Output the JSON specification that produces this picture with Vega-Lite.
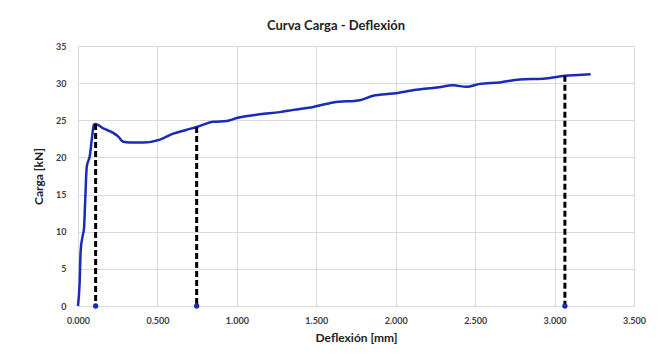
{
  "$schema": "https://vega.github.io/schema/vega-lite/v6.json",
  "width": 556,
  "height": 260,
  "autosize": {"type": "none"},
  "padding": {"left": 78, "top": 46, "right": 27, "bottom": 47},
  "background": "white",
  "title": {
    "text": "Curva Carga - Deflexión",
    "font": "Lato",
    "fontSize": 13,
    "fontWeight": "bold",
    "color": "#222222",
    "anchor": "middle",
    "dx": -20,
    "offset": 9
  },
  "config": {
    "view": {"stroke": null},
    "axis": {
      "labelFont": "Lato",
      "labelFontWeight": "bold",
      "labelFontSize": 9,
      "labelColor": "#404040",
      "labelFlush": false,
      "titleFont": "Lato",
      "titleFontWeight": "bold",
      "titleFontSize": 12,
      "titleColor": "#222222",
      "gridColor": "#d9d9d9",
      "gridWidth": 1,
      "domain": false,
      "ticks": false
    }
  },
  "datasets": {
    "curve": [
      {"x": 0.0, "y": 0.0},
      {"x": 0.01, "y": 3.0},
      {"x": 0.017, "y": 7.5},
      {"x": 0.03, "y": 9.5},
      {"x": 0.038, "y": 10.5},
      {"x": 0.045, "y": 14.0},
      {"x": 0.055, "y": 18.7},
      {"x": 0.075, "y": 20.3},
      {"x": 0.09, "y": 23.0},
      {"x": 0.1, "y": 24.4},
      {"x": 0.11, "y": 24.5},
      {"x": 0.16, "y": 23.9},
      {"x": 0.222, "y": 23.3},
      {"x": 0.254, "y": 22.8},
      {"x": 0.285, "y": 22.1},
      {"x": 0.327, "y": 22.0},
      {"x": 0.411, "y": 22.0},
      {"x": 0.516, "y": 22.4},
      {"x": 0.6, "y": 23.2},
      {"x": 0.68, "y": 23.7},
      {"x": 0.747, "y": 24.1},
      {"x": 0.852, "y": 24.8},
      {"x": 0.936, "y": 24.9},
      {"x": 0.999, "y": 25.3},
      {"x": 1.145, "y": 25.8},
      {"x": 1.271, "y": 26.1},
      {"x": 1.355, "y": 26.4},
      {"x": 1.481, "y": 26.8},
      {"x": 1.607, "y": 27.4},
      {"x": 1.775, "y": 27.7},
      {"x": 1.858, "y": 28.3},
      {"x": 1.984, "y": 28.6},
      {"x": 2.13, "y": 29.1},
      {"x": 2.257, "y": 29.4},
      {"x": 2.362, "y": 29.7},
      {"x": 2.446, "y": 29.5},
      {"x": 2.53, "y": 29.9},
      {"x": 2.656, "y": 30.1},
      {"x": 2.78, "y": 30.5},
      {"x": 2.93, "y": 30.6},
      {"x": 3.065, "y": 31.0},
      {"x": 3.15, "y": 31.1},
      {"x": 3.227, "y": 31.2}
    ],
    "marks": [
      {"x": 0.111, "y": 24.5, "base": 0},
      {"x": 0.747, "y": 24.1, "base": 0},
      {"x": 3.065, "y": 31.0, "base": 0}
    ]
  },
  "layer": [
    {
      "data": {"name": "curve"},
      "mark": {"type": "line", "color": "#1a2bb5", "strokeWidth": 2.5, "interpolate": "monotone"},
      "encoding": {
        "x": {
          "field": "x", "type": "quantitative",
          "scale": {"domain": [0, 3.5], "nice": false, "zero": false},
          "axis": {"title": "Deflexión [mm]", "values": [0, 0.5, 1, 1.5, 2, 2.5, 3, 3.5], "format": ".3f", "labelPadding": 10, "titlePadding": 7}
        },
        "y": {
          "field": "y", "type": "quantitative",
          "scale": {"domain": [0, 35], "nice": false, "zero": false},
          "axis": {"title": "Carga [kN]", "values": [0, 5, 10, 15, 20, 25, 30, 35], "labelPadding": 12, "titlePadding": 10}
        }
      }
    },
    {
      "data": {"name": "marks"},
      "mark": {"type": "rule", "color": "black", "strokeWidth": 3, "strokeDash": [6, 3]},
      "encoding": {
        "x": {
          "field": "x", "type": "quantitative",
          "scale": {"domain": [0, 3.5], "nice": false, "zero": false},
          "axis": {"title": "Deflexión [mm]", "values": [0, 0.5, 1, 1.5, 2, 2.5, 3, 3.5], "format": ".3f", "labelPadding": 10, "titlePadding": 7}
        },
        "y": {
          "field": "y", "type": "quantitative",
          "scale": {"domain": [0, 35], "nice": false, "zero": false},
          "axis": {"title": "Carga [kN]", "values": [0, 5, 10, 15, 20, 25, 30, 35], "labelPadding": 12, "titlePadding": 10}
        },
        "y2": {"field": "base"}
      }
    },
    {
      "data": {"name": "marks"},
      "mark": {"type": "point", "filled": true, "color": "#1a2bb5", "size": 28, "opacity": 1},
      "encoding": {
        "x": {
          "field": "x", "type": "quantitative",
          "scale": {"domain": [0, 3.5], "nice": false, "zero": false},
          "axis": {"title": "Deflexión [mm]", "values": [0, 0.5, 1, 1.5, 2, 2.5, 3, 3.5], "format": ".3f", "labelPadding": 10, "titlePadding": 7}
        },
        "y": {
          "field": "base", "type": "quantitative",
          "scale": {"domain": [0, 35], "nice": false, "zero": false},
          "axis": {"title": "Carga [kN]", "values": [0, 5, 10, 15, 20, 25, 30, 35], "labelPadding": 12, "titlePadding": 10}
        }
      }
    }
  ]
}
